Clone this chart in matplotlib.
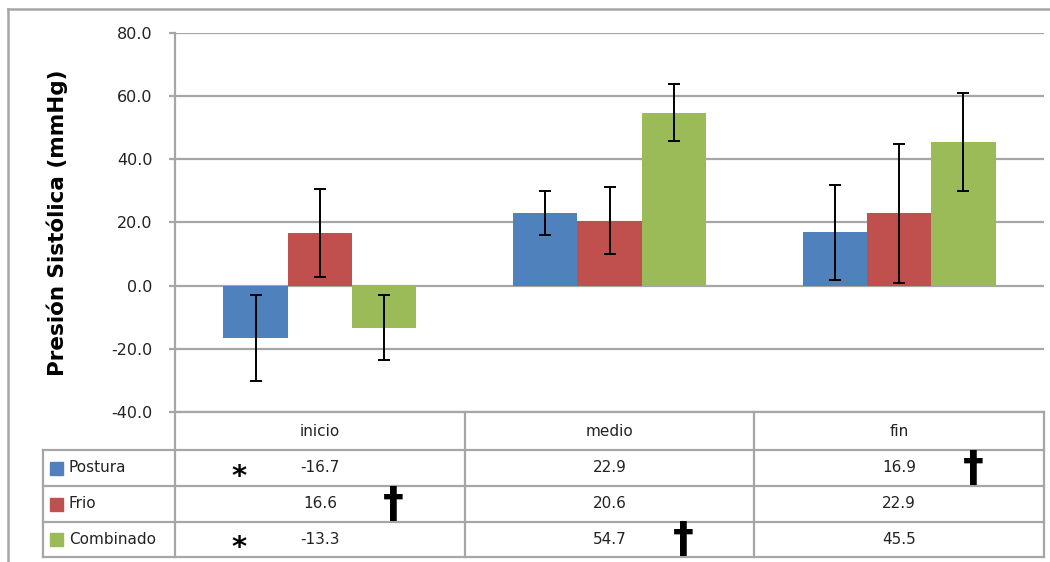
import numpy as np
import matplotlib
matplotlib.use("Agg")
import matplotlib.pyplot as plt
from matplotlib.lines import Line2D
from matplotlib.patches import Rectangle
from matplotlib.transforms import blended_transform_factory

# datos
momentos = ["inicio", "medio", "fin"]
series = ["Postura", "Frio", "Combinado"]
postura = [-16.7, 22.9, 16.9]
frio = [16.6, 20.6, 22.9]
combinado = [-13.3, 54.7, 45.5]
err_postura = [13.6, 7.0, 15.0]
err_frio = [14.0, 10.5, 22.0]
err_combinado = [10.3, 9.0, 15.5]
colores = ["#4F81BD", "#C0504D", "#9BBB59"]

# marcas de significancia: (serie, momento, simbolo)
marcas = [("Postura", "inicio", "*"), ("Combinado", "inicio", "*"),
          ("Frio", "inicio", "\u2020"), ("Combinado", "medio", "\u2020"),
          ("Postura", "fin", "\u2020")]

valores = [postura, frio, combinado]
errores = [err_postura, err_frio, err_combinado]

W, H = 1050, 562
fig = plt.figure(figsize=(W / 100, H / 100), dpi=100)
plt.rcParams['font.family'] = ['DejaVu Sans']

def fx(px):
    return px / W

def fy(py):
    return 1 - py / H

gris = "#A6A6A6"
ax = fig.add_axes([fx(175), fy(412), fx(1044) - fx(175), fy(33) - fy(412)])

x = np.arange(len(momentos))
ancho = 0.222
for i, (s, v, e) in enumerate(zip(series, valores, errores)):
    pos = x + (i - 1) * ancho
    ax.bar(pos, v, width=ancho, color=colores[i], label=s, zorder=2)
    ax.errorbar(pos, v, yerr=e, fmt="none", ecolor="black", elinewidth=1.4,
                capsize=4, capthick=1.4, zorder=3)

ax.set_xlim(-0.5, len(momentos) - 0.5)
ax.set_ylim(-40, 80)
ax.set_yticks(np.arange(-40, 81, 20))
ax.set_yticklabels([f"{t:.1f}" for t in np.arange(-40, 81, 20)],
                   fontsize=11.5, color="#222222")
ax.set_xticks([])
ax.yaxis.grid(True, color=gris, linewidth=1.6, zorder=0)
ax.set_axisbelow(True)
for lado in ["top", "right", "bottom"]:
    ax.spines[lado].set_visible(False)
ax.spines["left"].set_color(gris)
ax.spines["left"].set_linewidth(1.6)
ax.tick_params(axis="y", length=4, width=1.6, color=gris, pad=12)
ax.set_ylabel("Presión Sistólica (mmHg)", fontsize=15.5, fontweight="bold",
              labelpad=31)

# tabla de datos bajo el grafico
tr = blended_transform_factory(ax.transData, fig.transFigure)
fila_y = [412, 450, 486, 522, 557]
izq_tabla = 43
borde_der = 1044

def hline(y, x0, x1):
    fig.add_artist(Line2D([fx(x0), fx(x1)], [fy(y), fy(y)], color=gris, lw=1.6))

def vline(xp, y0, y1):
    fig.add_artist(Line2D([fx(xp), fx(xp)], [fy(y0), fy(y1)], color=gris, lw=1.6))

hline(fila_y[0], 175, borde_der)
for y in fila_y[1:]:
    hline(y, izq_tabla, borde_der)
vline(izq_tabla, fila_y[1], fila_y[-1])
for k in range(len(momentos) + 1):
    xp = ax.transData.transform((k - 0.5, 0))[0]
    vline(xp, fila_y[0], fila_y[-1])

for j, m in enumerate(momentos):
    fig.text(j, fy((fila_y[0] + fila_y[1]) / 2), m, transform=tr,
             ha="center", va="center", fontsize=11, color="#222222")

for i, s in enumerate(series):
    yc = fy((fila_y[i + 1] + fila_y[i + 2]) / 2)
    fig.add_artist(Rectangle((fx(50), yc - 6.5 / H), 13 / W, 13 / H,
                             color=colores[i], transform=fig.transFigure))
    fig.text(fx(69), yc, s, ha="left", va="center", fontsize=11, color="#222222")
    for j in range(len(momentos)):
        fig.text(j, yc, f"{valores[i][j]:.1f}", transform=tr,
                 ha="center", va="center", fontsize=11, color="#222222")

for s, m, sim in marcas:
    i = series.index(s)
    j = momentos.index(m)
    yc = (fila_y[i + 1] + fila_y[i + 2]) / 2
    if sim == "*":
        fig.text(j - 0.28, fy(yc + 17), sim, transform=tr, ha="center",
                 va="baseline", fontsize=21, fontweight="bold", color="black")
    else:
        fig.text(j + 0.255, fy(yc + 1), sim, transform=tr, ha="center",
                 va="center", fontsize=30, fontweight="bold", color="black")

# marco exterior
fig.add_artist(Line2D([fx(8), fx(8)], [fy(9), 0], color=gris, lw=1.8))
fig.add_artist(Line2D([fx(8), 1], [fy(9), fy(9)], color=gris, lw=1.8))

fig.savefig("out.png", dpi=100)
